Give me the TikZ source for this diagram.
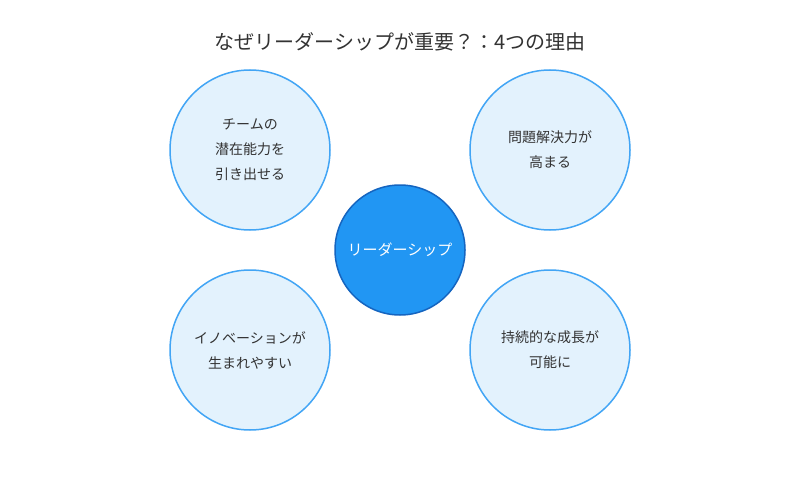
\documentclass[tikz,border=0pt]{standalone}
\usepackage{fontspec}
\setmainfont{Noto Sans CJK JP}
\definecolor{hubFill}{RGB}{33,150,243}
\definecolor{hubDraw}{RGB}{21,101,192}
\definecolor{leafFill}{RGB}{227,242,253}
\definecolor{leafDraw}{RGB}{66,165,245}
\definecolor{textColor}{RGB}{51,51,51}
\tikzset{
  hub/.style={circle,fill=hubFill,draw=hubDraw,line width=1.5pt,minimum size=130pt,inner sep=0pt,text=white,font=\fontsize{15}{20}\selectfont},
  leaf/.style={circle,fill=leafFill,draw=leafDraw,line width=1.5pt,minimum size=160pt,inner sep=0pt,text=textColor,align=center,font=\fontsize{14}{25}\selectfont}
}
\begin{document}
\begin{tikzpicture}[x=1pt,y=-1pt]
\path[use as bounding box,fill=white] (0,0) rectangle (800,500);

\node[text=textColor,font=\fontsize{20}{24}\selectfont] (title) at (400,42) {なぜリーダーシップが重要？：4つの理由};

\node[leaf] (potential) at (250,150) {チームの\\潜在能力を\\引き出せる};
\node[leaf] (solve) at (550,150) {問題解決力が\\高まる};
\node[leaf] (innov) at (250,350) {イノベーションが\\生まれやすい};
\node[leaf] (growth) at (550,350) {持続的な成長が\\可能に};

\node[hub] (lead) at (400,250) {リーダーシップ};
\end{tikzpicture}
\end{document}
